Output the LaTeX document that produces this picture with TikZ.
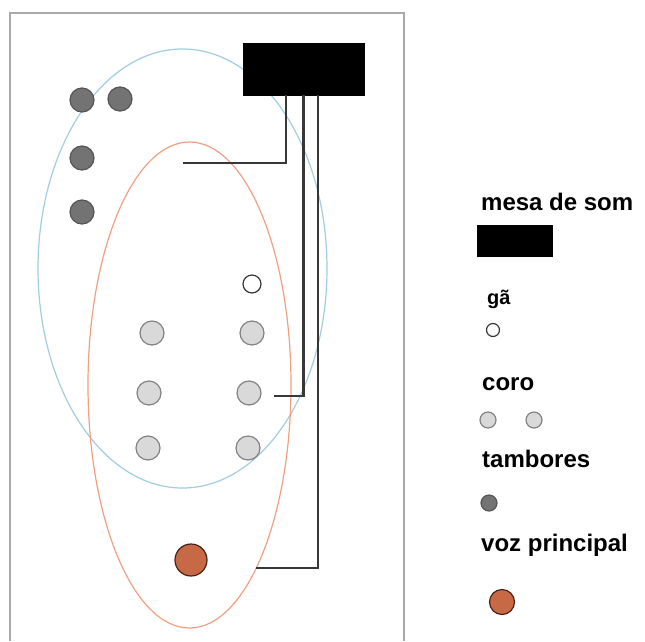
\documentclass[tikz,border=0pt]{standalone}
\usepackage{fontspec}
\setmainfont{Liberation Sans}
\usetikzlibrary{positioning}
\definecolor{drumfill}{RGB}{115,115,115}
\definecolor{drumline}{RGB}{85,85,85}
\definecolor{choirfill}{RGB}{217,217,217}
\definecolor{choirline}{RGB}{130,130,130}
\definecolor{leadfill}{RGB}{200,105,70}
\definecolor{leadline}{RGB}{70,35,25}
\definecolor{zoneblue}{RGB}{160,205,225}
\definecolor{zoneorange}{RGB}{240,160,130}
\definecolor{cablegray}{RGB}{55,55,55}
\definecolor{framegray}{RGB}{170,170,170}
\tikzstyle{seat}=[circle,inner sep=0pt,minimum size=24pt,line width=1.2pt]
\tikzstyle{drum}=[seat,draw=drumline,fill=drumfill]
\tikzstyle{choir}=[seat,draw=choirline,fill=choirfill]
\tikzstyle{gong}=[seat,minimum size=18pt,draw=cablegray,fill=white]
\tikzstyle{lead}=[seat,minimum size=32pt,draw=leadline,fill=leadfill]
\tikzstyle{desk}=[rectangle,inner sep=0pt,draw=black,fill=black]
\tikzstyle{cable}=[draw=cablegray,line width=2.2pt]
\tikzstyle{drum zone}=[draw=zoneblue,line width=1.2pt]
\tikzstyle{voice zone}=[draw=zoneorange,line width=1.2pt]
\tikzstyle{frame}=[draw=framegray,line width=2pt]
\tikzstyle{legend text}=[anchor=base west,inner sep=0pt,font=\bfseries\fontsize{24}{29}\selectfont]

\begin{document}
\begin{tikzpicture}[x=1pt,y=-1pt]

\useasboundingbox (0,0) rectangle (645,641) ;
\draw [frame] (10,641) -- (10,13) -- (404,13) -- (404,641) ;

\draw [drum zone] (182.5,268.5) ellipse [x radius=144.5,y radius=219.5] ;
\draw [voice zone] (189.5,385) ellipse [x radius=101.5,y radius=243] ;

\node (mix) [desk,minimum width=121pt,minimum height=52pt] at (303.5,69) {} ;

\node (drum1) [drum] at (82,100) {} ;
\node (drum2) [drum] at (120,99) {} ;
\node (drum3) [drum] at (82,158) {} ;
\node (drum4) [drum] at (82,212) {} ;

\node (gong) [gong] at (252,284) {} ;

\node (choir1) [choir] at (152,333) {} ;
\node (choir2) [choir] at (252,333) {} ;
\node (choir3) [choir] at (149,393) {} ;
\node (choir4) [choir] at (249,393) {} ;
\node (choir5) [choir] at (148,448) {} ;
\node (choir6) [choir] at (248,448) {} ;

\node (lead) [lead] at (191,560) {} ;

\coordinate (micA) at (183,163) ;
\coordinate (micB) at (274,396) ;
\coordinate (micC) at (256,568) ;

\draw [cable] ([xshift=-17.5]mix.south) |- (micA) ;
\draw [cable] (mix.south) |- (micB) ;
\draw [cable] ([xshift=14.5]mix.south) |- (micC) ;

% legend
\node (lmix) [legend text] at (481,210) {mesa de som} ;
\node (lmixbox) [desk,minimum width=75pt,minimum height=31pt] at (514.5,240.5) {} ;
\node (lgong) [legend text,font=\bfseries\fontsize{20}{24}\selectfont] at (487,304) {gã} ;
\node (lgongdot) [gong,minimum size=13pt] at (493,330) {} ;
\node (lchoir) [legend text] at (482,390) {coro} ;
\node (lchoir1) [choir,minimum size=16pt] at (488,420) {} ;
\node (lchoir2) [choir,minimum size=16pt] at (534,420) {} ;
\node (ldrum) [legend text] at (482,467) {tambores} ;
\node (ldrumdot) [drum,minimum size=16pt] at (489,503) {} ;
\node (llead) [legend text] at (481,551) {voz principal} ;
\node (lleaddot) [lead,minimum size=25pt] at (502,602) {} ;

\end{tikzpicture}
\end{document}
